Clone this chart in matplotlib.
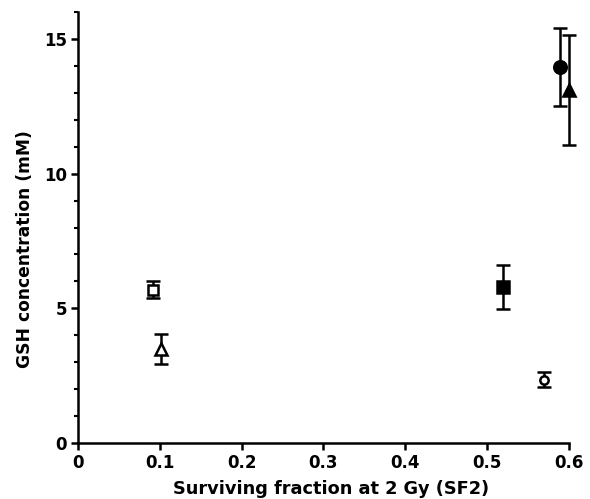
import matplotlib
matplotlib.use("Agg")
import matplotlib.pyplot as plt
from matplotlib.ticker import MultipleLocator

# data
sf2 = [0.092, 0.102, 0.52, 0.57, 0.589, 0.60]
gsh = [5.7, 3.5, 5.8, 2.35, 13.95, 13.1]
gsh_err = [0.3, 0.55, 0.82, 0.28, 1.45, 2.05]
markers = ['s', '^', 's', 'o', 'o', '^']
filled = [False, False, True, False, True, True]
msizes = [7, 8, 8, 6, 9, 9]

fig = plt.figure(figsize=(5.9, 4.99), dpi=100)
ax = fig.add_axes([0.132, 0.112, 0.832, 0.864])

for x, y, e, m, f, ms in zip(sf2, gsh, gsh_err, markers, filled, msizes):
    eb = ax.errorbar(x, y, yerr=e, fmt=m, color='black', ecolor='black',
                     markersize=ms, markeredgewidth=1.8,
                     markerfacecolor='black' if f else 'white',
                     elinewidth=1.8, capsize=5, capthick=1.8, zorder=3)
    data_line, caplines, barcols = eb.lines
    data_line.set_clip_on(False)
    for art in list(caplines) + list(barcols):
        art.set_clip_on(False)

ax.set_xlim(0, 0.6)
ax.set_ylim(0, 16)
ax.yaxis.set_minor_locator(MultipleLocator(1))
ax.set_yticks([0, 5, 10, 15])
ax.set_xticks([0, 0.1, 0.2, 0.3, 0.4, 0.5, 0.6])
ax.set_xticklabels(['0', '0.1', '0.2', '0.3', '0.4', '0.5', '0.6'])

ax.spines['top'].set_visible(False)
ax.spines['right'].set_visible(False)
for s in ['left', 'bottom']:
    ax.spines[s].set_linewidth(1.8)
ax.tick_params(axis='both', which='major', direction='out', length=5, width=1.8,
               labelsize=12, pad=3)
ax.tick_params(axis='y', which='minor', direction='out', length=3, width=1.5)
for lab in ax.get_xticklabels() + ax.get_yticklabels():
    lab.set_fontweight('bold')

ax.set_xlabel('Surviving fraction at 2 Gy (SF2)', fontsize=12.8, fontweight='semibold')
ax.set_ylabel('GSH concentration (mM)', fontsize=12.3, fontweight='semibold')
ax.xaxis.set_label_coords(0.515, -0.085)
ax.yaxis.set_label_coords(-0.09, 0.45)

fig.savefig('out.png', dpi=100)
